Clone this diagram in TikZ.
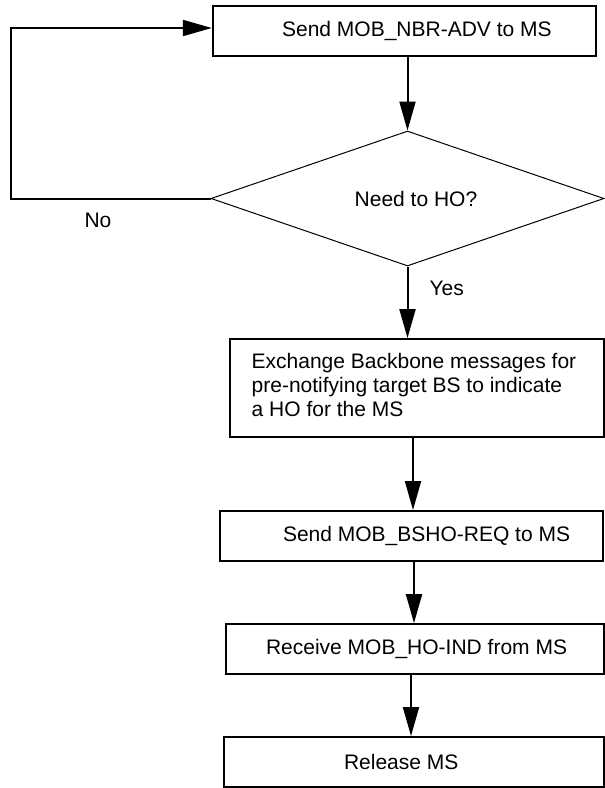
\documentclass[tikz,border=0pt]{standalone}
\usepackage{fontspec}
\setmainfont{Liberation Sans}
\usetikzlibrary{arrows.meta, positioning, shapes.geometric}
\tikzset{
  every picture/.style={font=\fontsize{21}{23.7}\selectfont, line width=2pt},
  box/.style={draw, rectangle, inner sep=0pt, minimum width=#1},
  box/.default=380pt,
  decision/.style={draw, diamond, line width=1pt, inner sep=0pt, aspect=2.9, minimum width=393pt, minimum height=135pt},
  arrow/.style={-{Triangle[length=29pt, width=16pt]}, draw=black, line width=2pt},
  txt/.style={inner sep=0pt, align=left},
  note/.style={inner sep=0pt},
}

\begin{document}
\begin{tikzpicture}[x=1pt, y=-1pt]
  \useasboundingbox (0,0) rectangle (605,788);
  % boxes of the flow, top to bottom
  \node[box=383pt, minimum height=50pt] (nbr) at (404.3,30.6) {};
  \node[txt, right=69.3pt of nbr.west] {Send MOB\_NBR-ADV to MS};
  \node[decision] (ho) at (407.5,198.5) {};
  \node[note] at (416,198.5) {Need to HO?};
  \node[box=374pt, minimum height=97.7pt] (xchg) at (417,387.9) {};
  \node[txt, right=21.7pt of xchg.west, yshift=3pt] {Exchange Backbone messages for\\pre-notifying target BS to indicate\\a HO for the MS};
  \node[box=383pt, minimum height=50pt] (bsho) at (411.5,536) {};
  \node[txt, right=63pt of bsho.west] {Send MOB\_BSHO-REQ to MS};
  \node[box=378pt, minimum height=49.7pt] (recv) at (415,649) {};
  \node[txt, right=40pt of recv.west] {Receive MOB\_HO-IND from MS};
  \node[box=380pt, minimum height=49.7pt] (rel) at (414,761.9) {};
  \node[txt, right=120pt of rel.west] {Release MS};
  % connectors
  \coordinate (back) at (11,28);
  \draw[arrow] (ho.north |- nbr.south) -- (ho.north);
  \draw[arrow] (ho.south) -- (ho.south |- xchg.north) node[note, pos=0.3, right=21pt] {Yes};
  \draw[arrow] (ho.west) -| (back) -- (back -| nbr.west);
  \node[note] at (98,220) {No};
  \draw[arrow] ([xshift=-4pt]xchg.south) -- ([xshift=-4pt]xchg.south |- bsho.north);
  \draw[arrow] ([xshift=2.5pt]bsho.south) -- ([xshift=2.5pt]bsho.south |- recv.north);
  \draw[arrow] ([xshift=-4pt]recv.south) -- ([xshift=-4pt]recv.south |- rel.north);
\end{tikzpicture}
\end{document}
